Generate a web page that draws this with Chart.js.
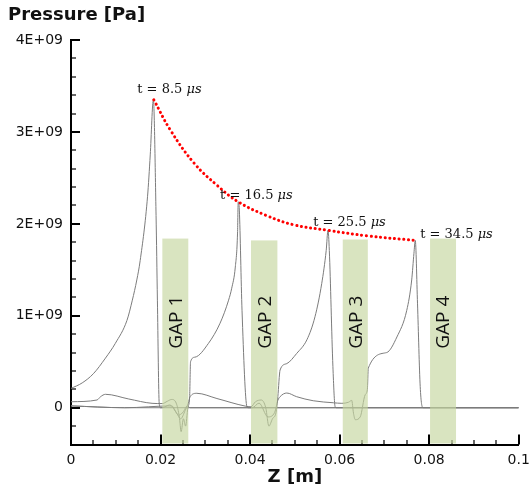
<!DOCTYPE html>
<html>
<head>
<meta charset="utf-8">
<script src="https://cdn.jsdelivr.net/npm/chart.js@4"></script>
<style>
  html, body { margin: 0; padding: 0; background: #fff; }
  canvas { display: block; }
</style>
</head>
<body>
<canvas id="chart" width="529" height="491"></canvas>
<script>
// z in m, pressure in units of 1E+09 Pa
const z1 = [0, 0.0025, 0.005, 0.0077, 0.0099, 0.0125, 0.0137, 0.0147, 0.01545, 0.0171, 0.0177, 0.0184, 0.0190, 0.0193, 0.0197, 0.0200, 0.1];
const p1 = [0.21, 0.27, 0.37, 0.54, 0.70, 0.95, 1.17, 1.39, 1.60, 2.30, 2.75, 3.35, 2.09, 1.17, 0.05, 0, 0];

const z2 = [0, 0.0058, 0.0066, 0.0077, 0.0129, 0.0181, 0.0204, 0.0215, 0.0225, 0.0235, 0.0242, 0.0246, 0.0251, 0.0256, 0.0261, 0.0265, 0.0267, 0.0277, 0.0307, 0.0333, 0.0352, 0.0359, 0.0367, 0.0372, 0.03735, 0.0376, 0.0382, 0.0393, 0.0396, 0.1];
const p2 = [0.065, 0.084, 0.12, 0.146, 0.095, 0.048, 0.045, 0.07, 0.09, 0.05, -0.1, -0.26, -0.12, -0.2, 0.0, 0.12, 0.5, 0.55, 0.70, 0.92, 1.17, 1.30, 1.53, 1.90, 2.24, 2.15, 1.06, 0.01, 0, 0];

const z3 = [0, 0.012, 0.0204, 0.022, 0.0235, 0.0245, 0.0255, 0.0262, 0.0266, 0.0281, 0.0326, 0.0389, 0.0402, 0.0412, 0.0425, 0.0435, 0.0442, 0.045, 0.0458, 0.0462, 0.0467, 0.0482, 0.0504, 0.0527, 0.0545, 0.056, 0.057, 0.0574, 0.0577, 0.0585, 0.059, 0.0593, 0.1];
const p3 = [0.02, 0, 0, 0.03, -0.05, -0.12, -0.03, 0.05, 0.12, 0.157, 0.10, 0.018, 0.01, 0.065, 0.084, 0.0, -0.2, -0.12, -0.05, 0.12, 0.41, 0.48, 0.59, 0.74, 0.99, 1.35, 1.71, 1.93, 1.71, 0.45, 0.01, 0, 0];

const z4 = [0, 0.012, 0.0225, 0.024, 0.025, 0.026, 0.0266, 0.0405, 0.042, 0.044, 0.0455, 0.0462, 0.0467, 0.0482, 0.0504, 0.0541, 0.0586, 0.0605, 0.062, 0.0627, 0.0631, 0.0635, 0.0646, 0.0657, 0.0662, 0.0664, 0.0705, 0.0728, 0.075, 0.0761, 0.0766, 0.0769, 0.0774, 0.078, 0.0786, 0.1];
const p4 = [0.02, 0, 0.02, -0.08, -0.05, 0.02, 0, 0, 0.05, -0.1, -0.05, 0.08, 0.12, 0.16, 0.12, 0.076, 0.054, 0.048, 0.06, 0.08, -0.06, -0.13, -0.1, 0.14, 0.2, 0.43, 0.60, 0.77, 1.06, 1.39, 1.68, 1.82, 1.13, 0.23, 0, 0];

// red dotted envelope through the peaks
const peakZ = [0.0185, 0.0222, 0.0275, 0.0326, 0.03735, 0.0437, 0.0497, 0.0574, 0.0661, 0.0769];
const peakP = [3.35, 3.02, 2.66, 2.42, 2.24, 2.09, 1.99, 1.93, 1.87, 1.82];

const timeLabels = ['t = 8.5', 't = 16.5', 't = 25.5', 't = 34.5'];
const labelZ = [0.0148, 0.0333, 0.0541, 0.0780];
const labelP = [3.475, 2.32, 2.03, 1.90];

const gapNames = ['GAP 1', 'GAP 2', 'GAP 3', 'GAP 4'];
const gapStart = [0.0204, 0.0402, 0.0607, 0.0802];
const gapEnd = [0.0262, 0.0461, 0.0663, 0.0860];
const gapTop = [1.84, 1.82, 1.83, 1.84];
const gapMid = 0.93;

const xTicks = [0, 0.02, 0.04, 0.06, 0.08, 0.1];
const yTicks = [0, 1, 2, 3, 4];
const xMinor = 0.005;
const yMinor = 0.2;

const pts = (zs, ps) => zs.map((z, i) => ({ x: z, y: ps[i] }));

const curve = (zs, ps) => ({
  data: pts(zs, ps),
  borderColor: '#7c7c7c',
  borderWidth: 1,
  pointRadius: 0,
  cubicInterpolationMode: 'monotone',
  order: 2
});

const decor = {
  id: 'decor',
  beforeDatasetsDraw(chart) {
    const { ctx, scales: { x, y } } = chart;
    ctx.save();
    ctx.strokeStyle = '#000';
    for (let i = 0; i * xMinor <= 0.1 + 1e-9; i++) {
      const px = Math.round(x.getPixelForValue(i * xMinor));
      const major = i % 4 === 0;
      ctx.lineWidth = major ? 2 : 1.2;
      ctx.beginPath();
      ctx.moveTo(px, y.bottom);
      ctx.lineTo(px, y.bottom - (major ? 10 : 4.5));
      ctx.stroke();
    }
    for (let i = -2; i <= 20; i++) {
      const py = Math.round(y.getPixelForValue(i * yMinor));
      const major = i % 5 === 0;
      ctx.lineWidth = major ? 2 : 1.2;
      ctx.beginPath();
      ctx.moveTo(x.left, py);
      ctx.lineTo(x.left + (major ? 9 : 5), py);
      ctx.stroke();
    }
    ctx.restore();
  },
  afterDatasetsDraw(chart) {
    const { ctx, scales: { x, y } } = chart;
    ctx.save();
    // gap bands over the curves
    gapNames.forEach((name, i) => {
      const x0 = x.getPixelForValue(gapStart[i]);
      const x1 = x.getPixelForValue(gapEnd[i]);
      const yt = y.getPixelForValue(gapTop[i]);
      ctx.fillStyle = 'rgba(196, 214, 158, 0.65)';
      ctx.fillRect(x0, yt, x1 - x0, y.bottom - 1 - yt);
      ctx.save();
      ctx.translate((x0 + x1) / 2, y.getPixelForValue(gapMid));
      ctx.rotate(-Math.PI / 2);
      ctx.fillStyle = '#111';
      ctx.font = '19px "Open Sans"';
      ctx.textAlign = 'center';
      ctx.textBaseline = 'middle';
      ctx.fillText(name, 0, 1);
      ctx.restore();
    });
    // time labels
    ctx.fillStyle = '#111';
    ctx.textBaseline = 'alphabetic';
    ctx.textAlign = 'left';
    timeLabels.forEach((t, i) => {
      const px = x.getPixelForValue(labelZ[i]);
      const py = y.getPixelForValue(labelP[i]) + 4.7;
      ctx.font = '13px "DejaVu Serif"';
      const txt = t + ' ';
      ctx.fillText(txt, px, py);
      const w = ctx.measureText(txt).width;
      ctx.font = 'italic 13px "DejaVu Serif"';
      ctx.fillText('\u03bcs', px + w, py);
    });
    // axis titles
    ctx.font = 'bold 18px "DejaVu Sans"';
    ctx.fillStyle = '#111';
    ctx.textAlign = 'left';
    ctx.fillText('Pressure [Pa]', 8, 20);
    ctx.textAlign = 'center';
    ctx.fillText('Z [m]', (x.left + x.right) / 2, 481.5);
    ctx.restore();
  }
};

new Chart(document.getElementById('chart'), {
  type: 'line',
  data: {
    datasets: [
      {
        data: pts(peakZ, peakP),
        borderColor: '#ff0000',
        borderWidth: 3,
        borderDash: [0.1, 4.6],
        borderCapStyle: 'round',
        pointRadius: 0,
        tension: 0.4,
        order: 0
      },
      curve(z1, p1),
      curve(z2, p2),
      curve(z3, p3),
      curve(z4, p4)
    ]
  },
  options: {
    responsive: false,
    animation: false,
    devicePixelRatio: 1,
    layout: { padding: { top: 40, right: 10.3, left: 0, bottom: 0 } },
    plugins: { legend: { display: false }, tooltip: { enabled: false } },
    scales: {
      x: {
        type: 'linear',
        min: 0,
        max: 0.1,
        afterBuildTicks: s => { s.ticks = xTicks.map(v => ({ value: v })); },
        afterFit: s => { s.height = 46.5; s.paddingLeft = 0; s.paddingRight = 0; },
        grid: { drawOnChartArea: false, drawTicks: false },
        border: { color: '#000', width: 2 },
        ticks: {
          autoSkip: false,
          maxRotation: 0,
          padding: 7,
          color: '#111',
          font: { family: 'DejaVu Sans', size: 14 },
          callback: v => (v === 0 ? '0' : String(v))
        }
      },
      y: {
        type: 'linear',
        min: -0.4,
        max: 4,
        afterBuildTicks: s => { s.ticks = yTicks.map(v => ({ value: v })); },
        afterFit: s => { s.width = 71; s.paddingTop = 0; s.paddingBottom = 0; },
        grid: { drawOnChartArea: false, drawTicks: false },
        border: { color: '#000', width: 2 },
        ticks: {
          padding: 8,
          color: '#111',
          font: { family: 'DejaVu Sans', size: 14 },
          callback: v => (v === 0 ? '0' : v + 'E+09')
        }
      }
    }
  },
  plugins: [decor]
});
</script>
</body>
</html>
